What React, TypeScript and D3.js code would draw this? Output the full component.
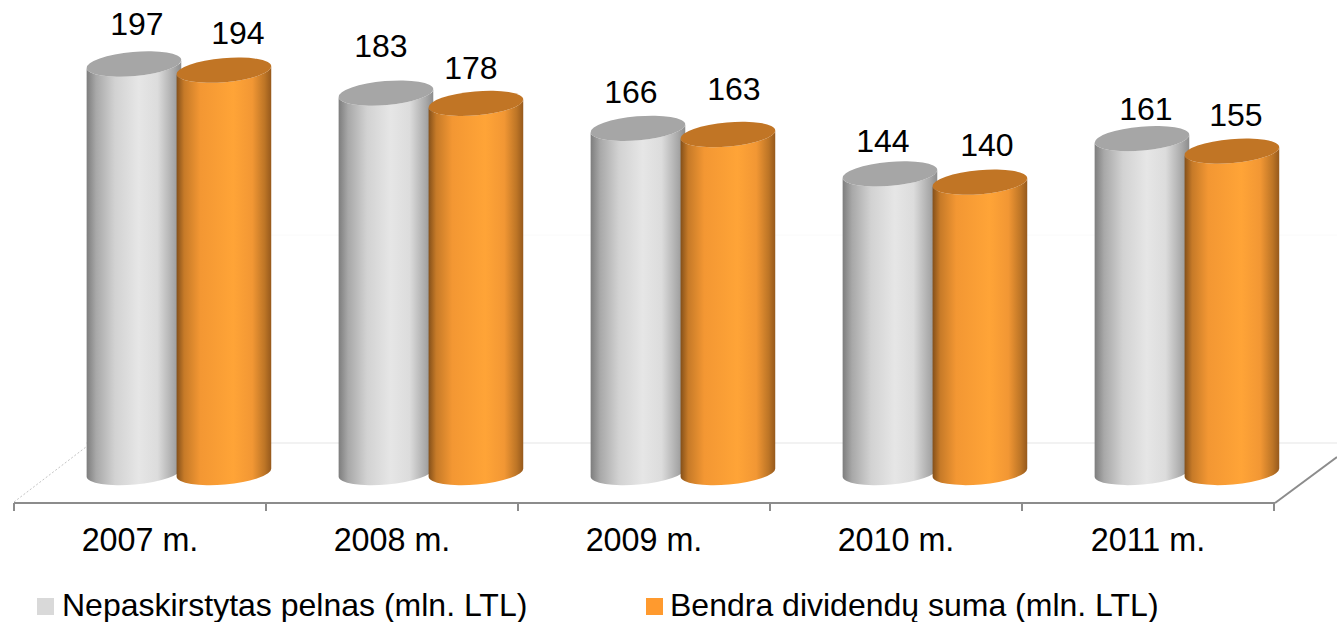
import React from "react";
import * as d3 from "d3";

const categories = ["2007 m.", "2008 m.", "2009 m.", "2010 m.", "2011 m."];
const retained = [197, 183, 166, 144, 161];
const dividends = [194, 178, 163, 140, 155];
const seriesNames = ["Nepaskirstytas pelnas (mln. LTL)", "Bendra dividendų suma (mln. LTL)"];

// Hand-placed label offsets relative to each cylinder's top
const retainedLabelOffset = [[3, -29], [-5, -36], [-7, -25], [-7, -22], [4, -19]];
const dividendLabelOffset = [[14, -26], [-5, -24], [6, -35], [7, -26], [4, -25]];

const W = 1337, H = 622;
const FONT = "'Liberation Sans', Arial, sans-serif";
const x = d3.scaleBand<string>().domain(categories).range([14, 1274]);
const y = d3.scaleLinear().domain([0, 197]).range([472.5, 64]);
const RX = 47.5, RY = 12, ROT = -5;
const rad = (ROT * Math.PI) / 180;
const dx = RX * Math.cos(rad), dy = RX * Math.sin(rad);

function bodyPath(cx: number, v: number) {
  const t = y(v), b = y(0);
  const arc = `A${RX},${RY} ${ROT} 0 0 ${cx + dx},${b + dy}`;
  return `M${cx - dx},${t - dy}L${cx - dx},${b - dy}${arc}L${cx + dx},${t + dy}A${RX},${RY} ${ROT} 0 1 ${cx - dx},${t - dy}Z`;
}

const stops = {
  g: [[0, "#7d7d7d"], [0.1, "#a8a8a8"], [0.3, "#d2d2d2"], [0.55, "#e6e6e6"], [0.75, "#dcdcdc"], [0.92, "#a9a9a9"], [1, "#8c8c8c"]],
  o: [[0, "#84501a"], [0.08, "#c67a28"], [0.25, "#f39733"], [0.6, "#ffa437"], [0.8, "#f29734"], [0.93, "#bd7526"], [1, "#96591c"]],
};

function Cyl({ cx, v, kind }: { cx: number; v: number; kind: "g" | "o" }) {
  return (
    <g>
      <path d={bodyPath(cx, v)} fill={`url(#grad-${kind})`} />
      <ellipse cx={cx} cy={y(v)} rx={RX} ry={RY} transform={`rotate(${ROT} ${cx} ${y(v)})`} fill={kind === "g" ? "#a6a6a6" : "#c17525"} />
    </g>
  );
}

export default function App() {
  const bw = x.bandwidth();
  const greyX = (c: string) => x(c)! + bw * 0.476;
  const orangeX = (c: string) => x(c)! + bw * 0.833;
  const ticks = [...categories.map((c) => x(c)!), 1274];
  return (
    <svg width={W} height={H} style={{ position: "absolute", left: 0, top: 0 }} fontFamily={FONT}>
      <defs>
        {(["g", "o"] as const).map((k) => (
          <linearGradient id={`grad-${k}`} key={k} x1="0" x2="1" y1="0" y2="0">
            {stops[k].map(([o, c]) => <stop key={String(o)} offset={o as number} stopColor={c as string} />)}
          </linearGradient>
        ))}
      </defs>
      <line x1={86} x2={1337} y1={443} y2={443} stroke="#eeeeee" strokeWidth={1.5} />
      <line x1={86} x2={1337} y1={235} y2={235} stroke="#fafafa" strokeWidth={1} />
      <line x1={14} y1={502} x2={86} y2={447} stroke="#c4c4c4" strokeWidth={1} strokeDasharray="2 2" />
      <line x1={14} x2={1275} y1={503} y2={503} stroke="#8c8c8c" strokeWidth={2} />
      <line x1={1275} y1={503} x2={1337} y2={457} stroke="#8c8c8c" strokeWidth={2} />
      {ticks.map((t) => <line key={t} x1={t} x2={t} y1={503} y2={511} stroke="#8c8c8c" strokeWidth={2} />)}
      {categories.map((c, i) => (
        <g key={c}>
          <Cyl cx={greyX(c)} v={retained[i]} kind="g" />
          <Cyl cx={orangeX(c)} v={dividends[i]} kind="o" />
          <text x={greyX(c) + retainedLabelOffset[i][0]} y={y(retained[i]) + retainedLabelOffset[i][1]} textAnchor="middle" fontSize={32} fill="#000">{retained[i]}</text>
          <text x={orangeX(c) + dividendLabelOffset[i][0]} y={y(dividends[i]) + dividendLabelOffset[i][1]} textAnchor="middle" fontSize={32} fill="#000">{dividends[i]}</text>
          <text x={x(c)! + bw / 2} y={551} textAnchor="middle" fontSize={32.3} fill="#000">{c}</text>
        </g>
      ))}
      <rect x={37} y={598} width={17} height={17} fill="#d9d9d9" />
      <text x={62} y={616} fontSize={32} fill="#000">{seriesNames[0]}</text>
      <rect x={646} y={598} width={17} height={17} fill="#ff9a2e" />
      <text x={670} y={616} fontSize={32} fill="#000">{seriesNames[1]}</text>
    </svg>
  );
}
